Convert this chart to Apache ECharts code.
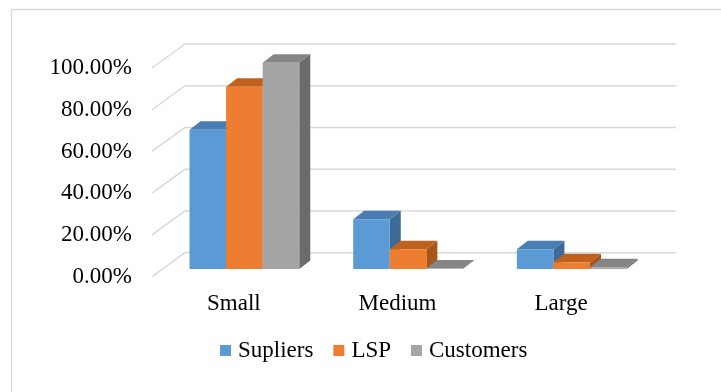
<!DOCTYPE html>
<html>
<head>
<meta charset="utf-8">
<script src="https://cdn.jsdelivr.net/npm/echarts@6/dist/echarts.min.js"></script>
<style>html,body{margin:0;padding:0;background:#fff}#c{width:721px;height:392px}</style>
</head>
<body>
<div id="c"></div>
<script>
const categories = ['Small', 'Medium', 'Large'];
const seriesNames = ['Supliers', 'LSP', 'Customers'];
const supliers = [66.7, 23.8, 9.5];
const lsp = [87.3, 9.5, 3.2];
const customers = [98.8, 0.3, 0.9];
const yTicks = [0, 20, 40, 60, 80, 100];

const FONT = "'Liberation Serif', 'Times New Roman', serif";
const frontColors = ['#5B9BD5', '#ED7D31', '#A5A5A5'];
const topColors = ['#4A7DB3', '#C0621F', '#858585'];
const sideColors = ['#3E6A98', '#A85519', '#6B6B6B'];

// oblique depth vector (full floor depth) and bar placement inside it
const DEPTH = [33, -24];
const BAR_FRONT = 0.32;   // fraction of depth where bar front face sits
const BAR_DEPTH = [11, -8.5];
const BAR_FRAC = 0.2235;  // bar width as fraction of category band

function barSeries(idx, values) {
  return {
    name: seriesNames[idx],
    type: 'custom',
    itemStyle: { color: frontColors[idx] },
    data: values.map((v, i) => [i, v]),
    encode: { x: 0, y: 1 },
    z: 3 + idx,
    renderItem: function (params, api) {
      const c = api.value(0), v = api.value(1);
      const base = api.coord([c, 0]);
      const top = api.coord([c, v]);
      const band = api.size([1, 0])[0];
      const w = band * BAR_FRAC;
      const ox = DEPTH[0] * BAR_FRONT, oy = DEPTH[1] * BAR_FRONT;
      const L = base[0] + ox - 1.5 * w + idx * w;
      const B = base[1] + oy;
      const T = top[1] + oy;
      const dx = BAR_DEPTH[0], dy = BAR_DEPTH[1];
      return {
        type: 'group',
        children: [
          { type: 'polygon', shape: { points: [[L + w, T], [L + w + dx, T + dy], [L + w + dx, B + dy], [L + w, B]] },
            style: { fill: sideColors[idx] } },
          { type: 'polygon', shape: { points: [[L, T], [L + w, T], [L + w + dx, T + dy], [L + dx, T + dy]] },
            style: { fill: topColors[idx] } },
          { type: 'rect', shape: { x: L, y: T, width: w, height: Math.max(B - T, 0) },
            style: { fill: frontColors[idx] } }
        ]
      };
    }
  };
}

const chart = echarts.init(document.getElementById('c'), null, { renderer: 'canvas' });
chart.setOption({
  backgroundColor: '#fff',
  animation: false,
  graphic: [{
    type: 'rect', left: 9, top: 7, shape: { width: 800, height: 500 },
    style: { fill: 'none', stroke: '#d9d9d9', lineWidth: 1.3 }, z: 0
  }],
  grid: { left: 152, right: 78, top: 68, bottom: 115.3 },
  legend: {
    data: seriesNames,
    left: 220, top: 339, padding: 0,
    itemWidth: 11, itemHeight: 11, itemGap: 20,
    icon: 'rect',
    textStyle: { fontFamily: FONT, fontSize: 23, color: '#000', padding: [0, 0, 9, 2] }
  },
  xAxis: {
    type: 'category', data: categories,
    axisLine: { show: false }, axisTick: { show: false },
    axisLabel: { fontFamily: FONT, fontSize: 23, color: '#000', margin: 16 }
  },
  yAxis: {
    type: 'value', min: 0, max: 100, interval: 20,
    splitLine: { show: false }, axisLine: { show: false }, axisTick: { show: false },
    axisLabel: { fontFamily: FONT, fontSize: 23, color: '#000', margin: 20,
      formatter: v => v.toFixed(2) + '%' }
  },
  series: [
    {
      type: 'custom', silent: true, z: 1,
      data: yTicks.map(t => [0, t]),
      encode: { x: 0, y: 1 },
      renderItem: function (params, api) {
        const cs = params.coordSys;
        const y = api.coord([0, api.value(1)])[1];
        const bx = cs.x + DEPTH[0], by = y + DEPTH[1];
        const st = { stroke: '#d9d9d9', lineWidth: 1.5 };
        return {
          type: 'group',
          children: [
            { type: 'line', shape: { x1: cs.x, y1: y, x2: bx, y2: by }, style: st },
            { type: 'line', shape: { x1: bx, y1: by, x2: cs.x + cs.width + DEPTH[0], y2: by }, style: st }
          ]
        };
      }
    },
    barSeries(0, supliers),
    barSeries(1, lsp),
    barSeries(2, customers)
  ]
});
</script>
</body>
</html>
